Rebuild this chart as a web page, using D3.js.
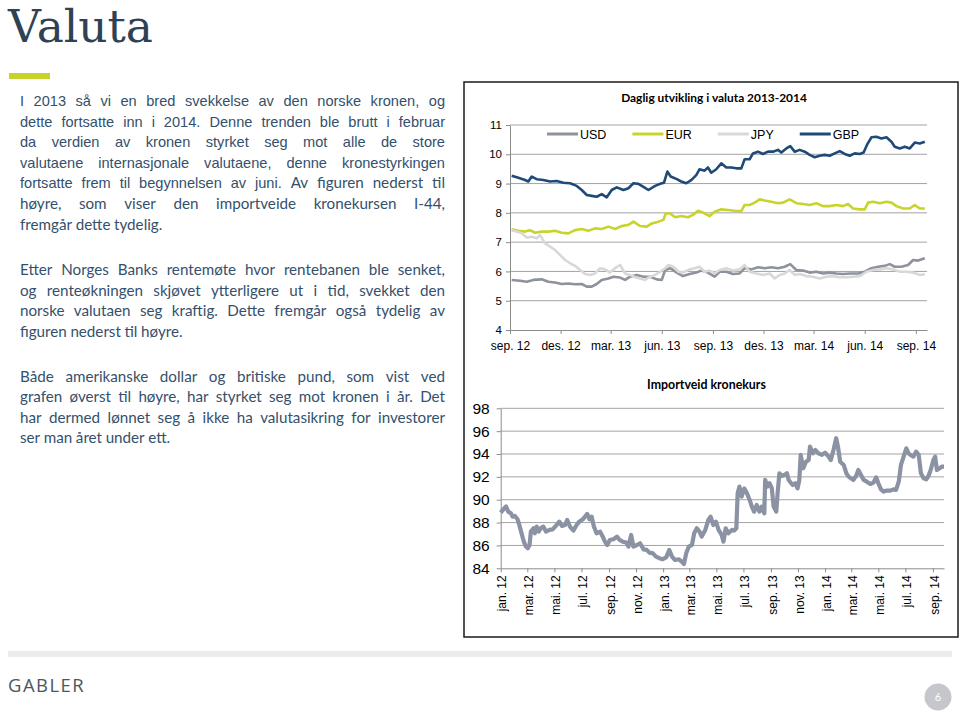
<!DOCTYPE html>
<html><head><meta charset="utf-8">
<script src="https://cdn.jsdelivr.net/npm/d3@7"></script>
<style>html,body{margin:0;padding:0;background:#fff;} svg{display:block}</style>
</head><body><svg id="c" width="960" height="711"></svg>
<script>
// ---------------- DATA ----------------
const pageTitle = "Valuta";
const para1 = [
  "I 2013 så vi en bred svekkelse av den norske kronen, og",
  "dette fortsatte inn i 2014. Denne trenden ble brutt i februar",
  "da verdien av kronen styrket seg mot alle de store",
  "valutaene internasjonale valutaene, denne kronestyrkingen",
  "fortsatte frem til begynnelsen av juni. Av figuren nederst til",
  "høyre, som viser den importveide kronekursen I-44,",
  "fremgår dette tydelig."
];
const para2 = [
  "Etter Norges Banks rentemøte hvor rentebanen ble senket,",
  "og renteøkningen skjøvet ytterligere ut i tid, svekket den",
  "norske valutaen seg kraftig. Dette fremgår også tydelig av",
  "figuren nederst til høyre."
];
const para3 = [
  "Både amerikanske dollar og britiske pund, som vist ved",
  "grafen øverst til høyre, har styrket seg mot kronen i år. Det",
  "har dermed lønnet seg å ikke ha valutasikring for investorer",
  "ser man året under ett."
];
const footerBrand = "GABLER";
const pageNumber = "6";

const topTitle = "Daglig utvikling i valuta 2013-2014";
const seriesNames = ["USD", "EUR", "JPY", "GBP"];
const topYTicks = [4, 5, 6, 7, 8, 9, 10, 11];
const topTickLabels = ["sep. 12","des. 12","mar. 13","jun. 13","sep. 13","des. 13","mar. 14","jun. 14","sep. 14"];

const usd = [["2012-09-04",5.71],["2012-09-19",5.68],["2012-10-01",5.65],["2012-10-13",5.71],["2012-10-28",5.73],["2012-11-09",5.65],["2012-11-21",5.62],["2012-12-03",5.57],["2012-12-15",5.59],["2012-12-27",5.56],["2013-01-08",5.57],["2013-01-17",5.48],["2013-01-26",5.48],["2013-02-04",5.57],["2013-02-13",5.71],["2013-02-25",5.76],["2013-03-06",5.82],["2013-03-18",5.79],["2013-03-27",5.71],["2013-04-05",5.82],["2013-04-17",5.88],["2013-04-29",5.82],["2013-05-11",5.82],["2013-05-23",5.73],["2013-06-01",5.71],["2013-06-07",6.05],["2013-06-16",6.11],["2013-06-28",5.96],["2013-07-09",5.84],["2013-07-21",5.91],["2013-08-02",5.96],["2013-08-11",6.03],["2013-08-23",5.96],["2013-09-04",5.82],["2013-09-13",5.99],["2013-09-25",5.99],["2013-10-07",5.91],["2013-10-19",5.93],["2013-10-28",6.11],["2013-11-09",6.07],["2013-11-21",6.14],["2013-12-03",6.11],["2013-12-15",6.14],["2013-12-27",6.11],["2014-01-08",6.16],["2014-01-18",6.25],["2014-01-29",6.05],["2014-02-10",6.03],["2014-02-22",5.96],["2014-03-06",5.99],["2014-03-18",5.93],["2014-03-30",5.96],["2014-04-11",5.93],["2014-04-23",5.91],["2014-05-05",5.93],["2014-05-20",5.93],["2014-06-01",5.99],["2014-06-13",6.11],["2014-06-25",6.16],["2014-07-07",6.19],["2014-07-16",6.25],["2014-07-25",6.16],["2014-08-06",6.16],["2014-08-18",6.22],["2014-08-27",6.39],["2014-09-05",6.37],["2014-09-17",6.45]];

const eur = [["2012-09-04",7.44],["2012-09-16",7.39],["2012-09-28",7.36],["2012-10-07",7.41],["2012-10-16",7.32],["2012-10-28",7.36],["2012-11-09",7.36],["2012-11-21",7.39],["2012-12-03",7.32],["2012-12-15",7.30],["2012-12-27",7.41],["2013-01-08",7.45],["2013-01-20",7.39],["2013-02-01",7.47],["2013-02-13",7.45],["2013-02-25",7.53],["2013-03-09",7.45],["2013-03-21",7.55],["2013-04-02",7.59],["2013-04-11",7.70],["2013-04-23",7.55],["2013-05-05",7.53],["2013-05-14",7.64],["2013-05-26",7.70],["2013-06-04",7.76],["2013-06-08",7.98],["2013-06-16",7.98],["2013-06-25",7.85],["2013-07-06",7.89],["2013-07-18",7.85],["2013-07-27",7.93],["2013-08-05",8.07],["2013-08-14",8.01],["2013-08-26",7.89],["2013-09-04",8.04],["2013-09-16",8.12],["2013-09-28",8.10],["2013-10-10",8.07],["2013-10-22",8.06],["2013-10-28",8.27],["2013-11-06",8.27],["2013-11-15",8.35],["2013-11-24",8.46],["2013-12-03",8.42],["2013-12-15",8.38],["2013-12-27",8.33],["2014-01-05",8.35],["2014-01-17",8.46],["2014-01-29",8.33],["2014-02-10",8.30],["2014-02-22",8.27],["2014-03-06",8.33],["2014-03-18",8.23],["2014-03-30",8.23],["2014-04-11",8.27],["2014-04-23",8.23],["2014-05-02",8.30],["2014-05-11",8.15],["2014-05-23",8.12],["2014-06-01",8.12],["2014-06-07",8.35],["2014-06-16",8.38],["2014-06-28",8.33],["2014-07-10",8.38],["2014-07-19",8.35],["2014-07-28",8.23],["2014-08-09",8.15],["2014-08-21",8.15],["2014-08-30",8.27],["2014-09-08",8.15],["2014-09-17",8.15]];

const jpy = [["2012-09-04",7.41],["2012-09-13",7.36],["2012-09-22",7.30],["2012-10-01",7.16],["2012-10-10",7.18],["2012-10-19",7.13],["2012-10-25",7.24],["2012-11-03",6.96],["2012-11-12",6.85],["2012-11-21",6.73],["2012-11-30",6.56],["2012-12-09",6.39],["2012-12-18",6.28],["2012-12-27",6.19],["2013-01-05",6.05],["2013-01-14",5.91],["2013-01-23",5.88],["2013-02-01",5.93],["2013-02-10",6.11],["2013-02-19",6.07],["2013-02-28",5.96],["2013-03-09",6.11],["2013-03-18",6.22],["2013-03-27",5.93],["2013-04-05",5.88],["2013-04-14",5.80],["2013-04-23",5.76],["2013-05-02",5.71],["2013-05-11",5.82],["2013-05-20",5.88],["2013-05-29",5.99],["2013-06-07",6.11],["2013-06-13",6.22],["2013-06-22",6.16],["2013-07-01",5.99],["2013-07-09",5.96],["2013-07-21",6.07],["2013-07-30",6.11],["2013-08-08",6.16],["2013-08-17",5.99],["2013-08-26",6.03],["2013-09-04",5.93],["2013-09-13",6.05],["2013-09-25",6.11],["2013-10-07",6.03],["2013-10-19",6.07],["2013-10-28",6.22],["2013-11-06",5.99],["2013-11-18",5.93],["2013-11-30",5.88],["2013-12-12",5.93],["2013-12-21",5.76],["2013-12-30",5.88],["2014-01-08",5.93],["2014-01-17",6.05],["2014-01-26",5.88],["2014-02-04",5.91],["2014-02-16",5.84],["2014-02-28",5.82],["2014-03-12",5.76],["2014-03-24",5.82],["2014-04-05",5.84],["2014-04-17",5.80],["2014-04-29",5.80],["2014-05-11",5.82],["2014-05-23",5.84],["2014-06-04",5.99],["2014-06-16",6.05],["2014-06-28",6.07],["2014-07-10",6.11],["2014-07-22",6.07],["2014-08-03",5.99],["2014-08-15",5.99],["2014-08-27",5.96],["2014-09-08",5.88],["2014-09-17",5.90]];

const gbp = [["2012-09-04",9.27],["2012-09-16",9.20],["2012-09-28",9.12],["2012-10-04",9.07],["2012-10-10",9.24],["2012-10-19",9.15],["2012-10-31",9.12],["2012-11-12",9.07],["2012-11-24",9.09],["2012-12-06",9.03],["2012-12-18",9.01],["2012-12-30",8.92],["2013-01-08",8.78],["2013-01-17",8.61],["2013-01-26",8.58],["2013-02-04",8.55],["2013-02-13",8.64],["2013-02-22",8.53],["2013-03-03",8.78],["2013-03-12",8.87],["2013-03-24",8.78],["2013-04-02",8.84],["2013-04-11",9.01],["2013-04-20",8.99],["2013-04-29",8.89],["2013-05-08",8.78],["2013-05-20",8.92],["2013-05-29",8.99],["2013-06-05",9.03],["2013-06-11",9.41],["2013-06-17",9.24],["2013-06-28",9.15],["2013-07-06",9.07],["2013-07-15",9.01],["2013-07-24",9.12],["2013-08-02",9.29],["2013-08-08",9.49],["2013-08-17",9.44],["2013-08-23",9.55],["2013-08-29",9.37],["2013-09-07",9.49],["2013-09-16",9.69],["2013-09-25",9.55],["2013-10-04",9.55],["2013-10-13",9.52],["2013-10-22",9.52],["2013-10-28",9.83],["2013-11-06",9.83],["2013-11-12",10.03],["2013-11-21",10.09],["2013-11-30",10.01],["2013-12-09",10.09],["2013-12-18",10.09],["2013-12-27",10.15],["2014-01-02",10.06],["2014-01-11",10.20],["2014-01-18",10.28],["2014-01-26",10.09],["2014-02-04",10.15],["2014-02-13",10.09],["2014-02-22",9.98],["2014-03-03",9.90],["2014-03-12",9.95],["2014-03-21",9.98],["2014-03-30",9.95],["2014-04-08",10.03],["2014-04-17",10.11],["2014-04-26",10.01],["2014-05-05",9.95],["2014-05-14",10.03],["2014-05-23",10.01],["2014-05-30",10.06],["2014-06-05",10.32],["2014-06-13",10.58],["2014-06-22",10.60],["2014-07-01",10.54],["2014-07-10",10.58],["2014-07-19",10.43],["2014-07-25",10.26],["2014-08-03",10.20],["2014-08-12",10.26],["2014-08-21",10.20],["2014-08-30",10.40],["2014-09-08",10.37],["2014-09-17",10.43]];

const bottomTitle = "Importveid kronekurs";
const bottomYTicks = [84, 86, 88, 90, 92, 94, 96, 98];
const bottomTickLabels = ["jan. 12","mar. 12","mai. 12","jul. 12","sep. 12","nov. 12","jan. 13","mar. 13","mai. 13","jul. 13","sep. 13","nov. 13","jan. 14","mar. 14","mai. 14","jul. 14","sep. 14"];
const i44 = [["2012-01-01",88.87],["2012-01-07",89.16],["2012-01-13",89.40],["2012-01-18",88.96],["2012-01-24",88.81],["2012-01-28",88.52],["2012-02-02",88.58],["2012-02-08",88.29],["2012-02-12",87.79],["2012-02-16",87.21],["2012-02-20",86.63],["2012-02-23",86.25],["2012-02-27",85.90],["2012-03-02",85.75],["2012-03-06",86.04],["2012-03-09",87.21],["2012-03-15",87.50],["2012-03-18",87.06],["2012-03-22",87.65],["2012-03-27",87.21],["2012-03-31",87.50],["2012-04-06",87.65],["2012-04-12",87.21],["2012-04-20",87.36],["2012-04-27",87.41],["2012-05-06",87.79],["2012-05-12",88.08],["2012-05-18",87.71],["2012-05-25",87.79],["2012-05-30",88.23],["2012-06-05",87.65],["2012-06-13",87.30],["2012-06-20",87.79],["2012-06-26",88.08],["2012-07-04",88.29],["2012-07-09",88.52],["2012-07-14",88.76],["2012-07-19",88.29],["2012-07-24",88.52],["2012-07-29",87.65],["2012-08-04",87.06],["2012-08-12",87.21],["2012-08-18",86.77],["2012-08-23",86.33],["2012-08-28",86.04],["2012-09-03",86.48],["2012-09-11",86.54],["2012-09-19",86.77],["2012-09-25",86.48],["2012-10-02",86.33],["2012-10-10",86.25],["2012-10-15",85.90],["2012-10-21",86.92],["2012-10-26",85.90],["2012-11-03",86.04],["2012-11-10",86.19],["2012-11-18",85.66],["2012-11-25",85.61],["2012-12-01",85.37],["2012-12-09",85.31],["2012-12-16",85.02],["2012-12-24",84.88],["2012-12-31",84.79],["2013-01-08",84.96],["2013-01-15",85.61],["2013-01-21",85.02],["2013-01-28",84.73],["2013-02-05",84.79],["2013-02-12",84.58],["2013-02-17",84.38],["2013-02-22",85.31],["2013-02-28",85.90],["2013-03-07",86.04],["2013-03-12",87.06],["2013-03-18",87.50],["2013-03-24",87.21],["2013-03-29",86.77],["2013-04-06",87.36],["2013-04-13",88.23],["2013-04-18",88.52],["2013-04-24",87.79],["2013-04-30",88.08],["2013-05-06",87.36],["2013-05-13",86.92],["2013-05-17",86.33],["2013-05-22",87.50],["2013-05-28",87.06],["2013-06-05",87.36],["2013-06-10",87.30],["2013-06-15",87.50],["2013-06-18",90.56],["2013-06-22",91.15],["2013-06-27",90.27],["2013-07-03",90.99],["2013-07-09",90.56],["2013-07-15",89.98],["2013-07-20",89.40],["2013-07-25",88.96],["2013-07-31",89.54],["2013-08-06",88.96],["2013-08-11",89.40],["2013-08-17",88.81],["2013-08-19",91.73],["2013-08-24",91.15],["2013-08-29",91.44],["2013-09-03",90.99],["2013-09-07",89.40],["2013-09-13",88.96],["2013-09-16",90.56],["2013-09-20",92.31],["2013-09-26",92.08],["2013-10-01",92.17],["2013-10-07",92.31],["2013-10-11",91.73],["2013-10-14",91.58],["2013-10-20",91.29],["2013-10-26",91.44],["2013-10-31",90.99],["2013-11-04",91.73],["2013-11-07",93.92],["2013-11-13",92.75],["2013-11-19",93.33],["2013-11-25",93.48],["2013-11-28",94.65],["2013-12-04",94.06],["2013-12-10",94.35],["2013-12-17",94.06],["2013-12-25",93.92],["2014-01-01",94.12],["2014-01-09",93.77],["2014-01-14",93.48],["2014-01-20",94.35],["2014-01-26",95.38],["2014-01-30",94.65],["2014-02-04",93.33],["2014-02-12",93.04],["2014-02-18",92.31],["2014-02-23",92.02],["2014-02-28",91.88],["2014-03-06",91.73],["2014-03-12",92.08],["2014-03-17",92.60],["2014-03-23",92.17],["2014-03-29",91.73],["2014-04-05",91.58],["2014-04-13",91.38],["2014-04-20",91.50],["2014-04-26",91.96],["2014-05-01",91.44],["2014-05-07",90.91],["2014-05-13",90.71],["2014-05-20",90.80],["2014-05-28",90.80],["2014-06-04",90.91],["2014-06-10",90.86],["2014-06-16",91.58],["2014-06-21",93.04],["2014-06-27",93.77],["2014-07-03",94.50],["2014-07-08",94.06],["2014-07-13",93.92],["2014-07-19",93.77],["2014-07-25",94.21],["2014-07-31",93.92],["2014-08-05",92.31],["2014-08-11",91.88],["2014-08-17",91.79],["2014-08-22",92.08],["2014-08-27",92.60],["2014-09-02",93.48],["2014-09-06",93.77],["2014-09-10",92.60],["2014-09-16",92.75],["2014-09-21",92.90],["2014-09-26",92.90]];

// ---------------- DRAWING ----------------
const svg = d3.select("#c");
const parse = d3.timeParse("%Y-%m-%d");
const ARIAL = "'Liberation Sans', Arial, sans-serif";
const CALIBRI = "Lato, Carlito, Calibri, sans-serif";
const TEXTCOL = "#34506c";

function fitWidth(sel, target) {
  const w = sel.node().getComputedTextLength();
  const fs = parseFloat(sel.attr("font-size"));
  sel.attr("font-size", fs * target / w);
}

// Title
const tt = svg.append("text").attr("x", 8).attr("y", 42)
  .attr("font-family", "'DejaVu Serif', Georgia, serif").attr("font-size", 44)
  .attr("fill", "#2e4253").text(pageTitle);
fitWidth(tt, 145);

svg.append("rect").attr("x", 9).attr("y", 73).attr("width", 41).attr("height", 6).attr("fill", "#c9d22b");

// Justified paragraphs
const LEFT = 20, RIGHT = 445, LH = 20.6;
function drawPara(lines, y0, fontFor) {
  lines.forEach((line, li) => {
    const words = line.split(" ").map((t, wi) => ({ t, f: fontFor(li, wi) }));
    const justify = li < lines.length - 1;
    const y = y0 + li * LH;
    words.forEach(w => {
      w.sel = svg.append("text").attr("y", y).attr("fill", TEXTCOL)
        .attr("font-family", w.f === "a" ? ARIAL : CALIBRI)
        .attr("font-size", w.f === "a" ? 14.6 : 15.2)
        .text(w.t);
      w.w = w.sel.node().getComputedTextLength();
    });
    const total = d3.sum(words, w => w.w);
    let gap = justify ? (RIGHT - LEFT - total) / (words.length - 1) : 3.6;
    let scale = 1;
    if (gap < 3) { gap = 3; scale = (RIGHT - LEFT - gap * (words.length - 1)) / total; }
    let x = LEFT;
    words.forEach(w => {
      w.sel.attr("x", x);
      if (scale !== 1) w.sel.attr("textLength", w.w * scale).attr("lengthAdjust", "spacingAndGlyphs");
      x += w.w * scale + gap;
    });
  });
}
drawPara(para1, 106, (li, wi) => (li < 4 || (li === 4 && wi < 6)) ? "a" : "c");
drawPara(para2, 275, () => "c");
drawPara(para3, 381.5, () => "c");

// Frame around charts
svg.append("rect").attr("x", 464).attr("y", 82).attr("width", 494).attr("height", 555)
  .attr("fill", "none").attr("stroke", "#1a1a1a").attr("stroke-width", 1.5);

// Footer
svg.append("rect").attr("x", 8).attr("y", 651).attr("width", 944).attr("height", 6).attr("fill", "#ececec");
const gb = svg.append("text").attr("x", 8).attr("y", 692).attr("font-family", "'Open Sans', sans-serif")
  .attr("font-size", 17).attr("letter-spacing", 1.5).attr("fill", "#4d5663").text(footerBrand);
fitWidth(gb, 78);
svg.append("circle").attr("cx", 938).attr("cy", 697).attr("r", 13.5).attr("fill", "#c5c7cc");
svg.append("text").attr("x", 938).attr("y", 701).attr("text-anchor", "middle").attr("font-family", CALIBRI)
  .attr("font-size", 11).attr("fill", "#fff").text(pageNumber);

const GRID = "#a3a3a3", AXIS = "#8c8c8c";

// ---------- Top chart ----------
const xT = d3.scaleTime().domain([parse("2012-09-01"), parse("2014-09-21")]).range([510, 927]);
const yT = d3.scaleLinear().domain([4, 11]).range([330, 125]);
const topTickDates = topTickLabels.map((l, i) => d3.timeMonth.offset(parse("2012-09-01"), 3 * i));

svg.append("text").attr("x", 714).attr("y", 102).attr("text-anchor", "middle")
  .attr("font-family", CALIBRI).attr("font-weight", 700).attr("font-size", 11.5).attr("fill", "#000")
  .text(topTitle).call(s => fitWidth(s, 186));

svg.append("g").selectAll("line").data(topYTicks.filter(v => v > 4)).join("line")
  .attr("x1", 510).attr("x2", 927).attr("y1", d => yT(d)).attr("y2", d => yT(d))
  .attr("stroke", GRID).attr("stroke-width", 1);

const yAxT = svg.append("g").attr("transform", "translate(510,0)")
  .call(d3.axisLeft(yT).tickValues(topYTicks).tickFormat(d3.format("d")).tickSize(4).tickSizeOuter(0).tickPadding(4));
const xAxT = svg.append("g").attr("transform", "translate(0,330)")
  .call(d3.axisBottom(xT).tickValues(topTickDates).tickFormat((d, i) => topTickLabels[i]).tickSize(4).tickSizeOuter(0).tickPadding(7));
[yAxT, xAxT].forEach(a => {
  a.selectAll("path, line").attr("stroke", AXIS);
  a.selectAll("text").attr("font-family", ARIAL).attr("fill", "#000");
});
yAxT.selectAll("text").attr("font-size", 11.5);
xAxT.selectAll("text").attr("font-size", 12);

const seriesData = [usd, eur, jpy, gbp];
const seriesColors = ["#8d929c", "#c8d42c", "#d8d8d8", "#1f4a77"];
const lineT = d3.line().x(d => xT(parse(d[0]))).y(d => yT(d[1]));
seriesData.forEach((s, i) => {
  svg.append("path").datum(s).attr("d", lineT).attr("fill", "none")
    .attr("stroke", seriesColors[i]).attr("stroke-width", 2.6).attr("stroke-linejoin", "round");
});

// Legend
let lx = 547;
seriesNames.forEach((n, i) => {
  svg.append("line").attr("x1", lx).attr("x2", lx + 31).attr("y1", 134).attr("y2", 134)
    .attr("stroke", seriesColors[i]).attr("stroke-width", 3);
  const t = svg.append("text").attr("x", lx + 33).attr("y", 138.5).attr("font-family", ARIAL)
    .attr("font-size", 12.5).attr("fill", "#000").text(n);
  lx += 33 + t.node().getComputedTextLength() + 26;
});

// ---------- Bottom chart ----------
const xB = d3.scaleTime().domain([parse("2012-01-01"), parse("2014-09-26")]).range([500.7, 944]);
const yB = d3.scaleLinear().domain([84, 98]).range([568.3, 408.3]);
const bottomTickDates = bottomTickLabels.map((l, i) => d3.timeMonth.offset(parse("2012-01-01"), 2 * i));

svg.append("text").attr("x", 706.5).attr("y", 389).attr("text-anchor", "middle")
  .attr("font-family", CALIBRI).attr("font-weight", 700).attr("font-size", 11.5).attr("fill", "#000")
  .text(bottomTitle).call(s => fitWidth(s, 119));

svg.append("g").selectAll("line").data(bottomYTicks.filter(v => v > 84)).join("line")
  .attr("x1", 500.7).attr("x2", 944).attr("y1", d => yB(d)).attr("y2", d => yB(d))
  .attr("stroke", GRID).attr("stroke-width", 1);

const yAxB = svg.append("g").attr("transform", "translate(500.7,0)")
  .call(d3.axisLeft(yB).tickValues(bottomYTicks).tickFormat(d3.format("d")).tickSize(4).tickSizeOuter(0).tickPadding(7));
const xAxB = svg.append("g").attr("transform", "translate(0,568.3)")
  .call(d3.axisBottom(xB).tickValues(bottomTickDates).tickFormat((d, i) => bottomTickLabels[i]).tickSize(4).tickSizeOuter(0));
[yAxB, xAxB].forEach(a => {
  a.selectAll("path, line").attr("stroke", AXIS);
  a.selectAll("text").attr("font-family", ARIAL).attr("fill", "#000");
});
yAxB.selectAll("text").attr("font-size", 15.5);
xAxB.selectAll("text").attr("font-size", 12)
  .attr("transform", "rotate(-90)").attr("text-anchor", "end")
  .attr("x", -7).attr("y", 1).attr("dy", "0.35em");

const lineB = d3.line().x(d => xB(parse(d[0]))).y(d => yB(d[1]));
svg.append("path").datum(i44).attr("d", lineB).attr("fill", "none")
  .attr("stroke", "#8a92a4").attr("stroke-width", 4.2).attr("stroke-linejoin", "round");
</script></body></html>
